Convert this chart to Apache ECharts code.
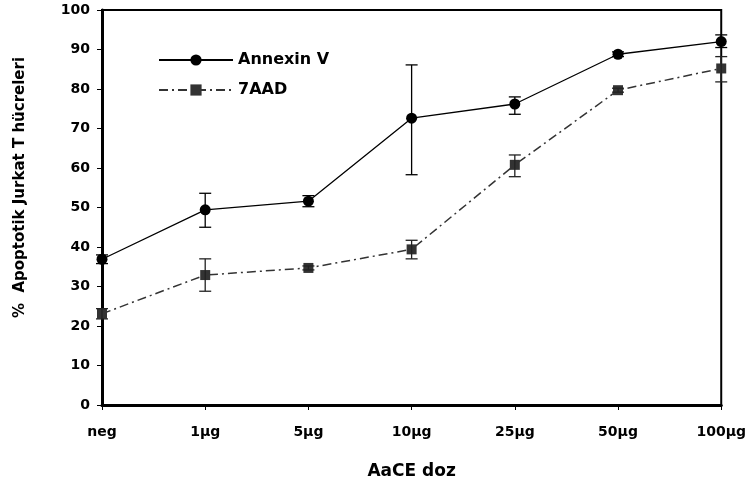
<!DOCTYPE html>
<html>
<head>
<meta charset="utf-8">
<script src="https://cdn.jsdelivr.net/npm/echarts@6/dist/echarts.min.js"></script>
<style>html,body{margin:0;padding:0;background:#fff;}#c{width:749px;height:489px;}</style>
</head>
<body>
<div id="c"></div>
<script>
var categories = ['neg', '1µg', '5µg', '10µg', '25µg', '50µg', '100µg'];
var annexin = [36.9, 49.4, 51.6, 72.6, 76.2, 88.8, 92.0];
var annexinLow = [35.8, 45.0, 50.2, 58.3, 73.6, 88.2, 90.5];
var annexinHigh = [38.0, 53.6, 53.0, 86.1, 78.0, 89.4, 93.7];
var aad = [23.1, 32.9, 34.7, 39.4, 60.8, 79.7, 85.2];
var aadLow = [21.8, 28.8, 34.2, 37.0, 57.8, 79.2, 81.8];
var aadHigh = [24.4, 37.0, 35.2, 41.7, 63.3, 80.2, 88.2];
var yTicks = [0, 100, 10];

var FONT = '"DejaVu Sans", sans-serif';

function errData(lo, hi) {
  return categories.map(function (c, i) { return [i, lo[i], hi[i]]; });
}
function errRender(color) {
  return function (params, api) {
    var i = api.value(0);
    var p1 = api.coord([i, api.value(1)]);
    var p2 = api.coord([i, api.value(2)]);
    var w = 6;
    var st = { stroke: color, lineWidth: 1.3 };
    return {
      type: 'group',
      children: [
        { type: 'line', shape: { x1: p1[0], y1: p1[1], x2: p2[0], y2: p2[1] }, style: st },
        { type: 'line', shape: { x1: p1[0] - w, y1: p1[1], x2: p1[0] + w, y2: p1[1] }, style: st },
        { type: 'line', shape: { x1: p2[0] - w, y1: p2[1], x2: p2[0] + w, y2: p2[1] }, style: st }
      ]
    };
  };
}

var chart = echarts.init(document.getElementById('c'), null, { renderer: 'canvas' });
chart.setOption({
  animation: false,
  backgroundColor: '#fff',
  textStyle: { fontFamily: FONT },
  grid: { left: 102, right: 26, top: 10, bottom: 84, show: true, borderColor: '#000', borderWidth: 2, backgroundColor: 'transparent' },
  legend: {
    orient: 'vertical',
    left: 153, top: 47,
    itemWidth: 74, itemHeight: 14, itemGap: 14,
    textStyle: { fontFamily: FONT, fontWeight: 'bold', fontSize: 16, color: '#000' },
    data: ['Annexin V', '7AAD']
  },
  xAxis: {
    type: 'category',
    data: categories,
    boundaryGap: false,
    name: 'AaCE doz',
    nameLocation: 'middle',
    nameGap: 58,
    nameTextStyle: { fontFamily: FONT, fontWeight: 'bold', fontSize: 17, color: '#000' },
    axisLine: { lineStyle: { color: '#000', width: 3 } },
    axisTick: { show: true, length: 5, lineStyle: { color: '#000', width: 1 }, alignWithLabel: true },
    axisLabel: { fontFamily: FONT, fontWeight: 'bold', fontSize: 14, color: '#000', margin: 20 },
    splitLine: { show: false }
  },
  yAxis: {
    type: 'value',
    min: yTicks[0], max: yTicks[1], interval: yTicks[2],
    name: '%  Apoptotik Jurkat T hücreleri',
    nameLocation: 'middle',
    nameGap: 74,
    nameRotate: 90,
    nameTextStyle: { fontFamily: FONT, fontWeight: 'bold', fontSize: 15, color: '#000', padding: [0, 0, 0, 40] },
    axisLine: { show: true, lineStyle: { color: '#000', width: 3 } },
    axisTick: { show: true, length: 5, lineStyle: { color: '#000', width: 1 } },
    axisLabel: { fontFamily: FONT, fontWeight: 'bold', fontSize: 14, color: '#000', margin: 12 },
    splitLine: { show: false }
  },
  series: [
    {
      name: 'Annexin V', type: 'line', data: annexin,
      symbol: 'circle', symbolSize: 11,
      itemStyle: { color: '#000' },
      lineStyle: { color: '#000', width: 1.3, type: 'solid' },
      z: 3
    },
    {
      name: '7AAD', type: 'line', data: aad,
      symbol: 'rect', symbolSize: 10,
      itemStyle: { color: '#333' },
      lineStyle: { color: '#333', width: 1.5, type: [9, 4, 2, 4] },
      z: 3
    },
    {
      type: 'custom', name: 'errA', data: errData(annexinLow, annexinHigh),
      renderItem: errRender('#000'), z: 4, silent: true
    },
    {
      type: 'custom', name: 'errB', data: errData(aadLow, aadHigh),
      renderItem: errRender('#222'), z: 4, silent: true
    }
  ]
});
</script>
</body>
</html>
